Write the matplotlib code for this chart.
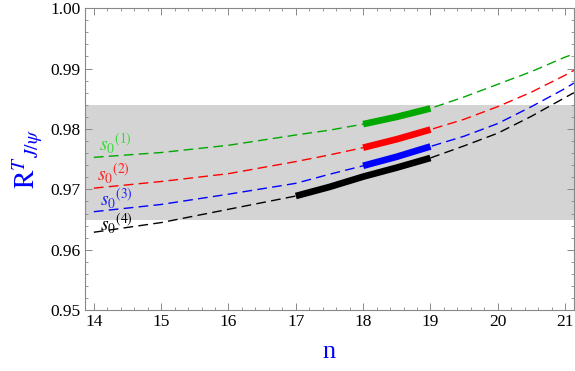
import matplotlib
matplotlib.use('Agg')
import matplotlib.pyplot as plt
from matplotlib.ticker import MultipleLocator, FormatStrFormatter

plt.rcParams['font.family'] = ['Liberation Serif', 'DejaVu Serif']
plt.rcParams['mathtext.fontset'] = 'stix'

# values
n_vals = [14, 15, 16, 17, 17.5, 18, 18.5, 19, 19.5, 20, 20.5, 21, 21.13]
r_s1 = [0.9753, 0.9761, 0.9773, 0.9790, 0.9798, 0.9808, 0.9820, 0.9834, 0.9853, 0.9874, 0.9895, 0.9919, 0.9924]
r_s2 = [0.9702, 0.9713, 0.9726, 0.9746, 0.9757, 0.9769, 0.9783, 0.9799, 0.9816, 0.9837, 0.9861, 0.9889, 0.9897]
r_s3 = [0.9663, 0.9675, 0.9692, 0.9710, 0.9725, 0.9739, 0.9754, 0.9771, 0.9788, 0.9809, 0.9837, 0.9867, 0.9876]
r_s4 = [0.9629, 0.9645, 0.9667, 0.9689, 0.9704, 0.9721, 0.9736, 0.9752, 0.9772, 0.9793, 0.9821, 0.9852, 0.9860]

# thick "window" segments (n range of each)
windows = [(18, 19), (18, 19), (18, 19), (17, 19)]

band_lo, band_hi = 0.965, 0.984

series = [r_s1, r_s2, r_s3, r_s4]
line_colors = ['#00a800', '#ff0000', '#0000ff', '#000000']
label_colors = ['#33dd33', '#ff2222', '#2222ff', '#000000']
labels = [r'$s_0{}^{(1)}$', r'$s_0{}^{(2)}$', r'$s_0{}^{(3)}$', r'$s_0{}^{(4)}$']
label_pos = [(14.07, 0.9775), (14.05, 0.9726), (14.09, 0.9684), (14.09, 0.9643)]

fig = plt.figure(figsize=(5.75, 3.71), dpi=100)
ax = fig.add_axes([0.148, 0.164, 0.850, 0.814])

ax.axhspan(band_lo, band_hi, color='#d4d4d4', lw=0, zorder=0)

for ys, c, (a, b) in zip(series, line_colors, windows):
    ax.plot(n_vals, ys, color=c, lw=1.0, dashes=(7, 3.8), zorder=2)
    xs = [x for x in n_vals if a <= x <= b]
    yw = [y for x, y in zip(n_vals, ys) if a <= x <= b]
    ax.plot(xs, yw, color=c, lw=4.8, solid_capstyle='butt', zorder=3)

for lab, c, (x, y) in zip(labels, label_colors, label_pos):
    ax.text(x, y, lab, color=c, fontsize=14, ha='left', va='center')

ax.set_xlim(13.87, 21.13)
ax.set_ylim(0.95, 1.0)
ax.xaxis.set_major_locator(MultipleLocator(1))
ax.xaxis.set_minor_locator(MultipleLocator(0.2))
ax.yaxis.set_major_locator(MultipleLocator(0.01))
ax.yaxis.set_minor_locator(MultipleLocator(0.002))
ax.yaxis.set_major_formatter(FormatStrFormatter('%.2f'))
ax.tick_params(which='both', direction='in', top=True, right=True,
               color='#888888', labelsize=12.5, pad=3)
ax.tick_params(which='major', length=5, width=0.7)
ax.tick_params(which='minor', length=2.5, width=0.6)
for sp in ax.spines.values():
    sp.set_color('#888888')
    sp.set_linewidth(0.8)

ax.set_xlabel('n', color='#0000ff', fontsize=19, labelpad=8)
ax.set_ylabel(r'$\mathrm{R}^{T}{}_{J/\psi}$', color='#0000ff', fontsize=20, labelpad=4)

plt.savefig('out.png', dpi=100)
plt.close()
